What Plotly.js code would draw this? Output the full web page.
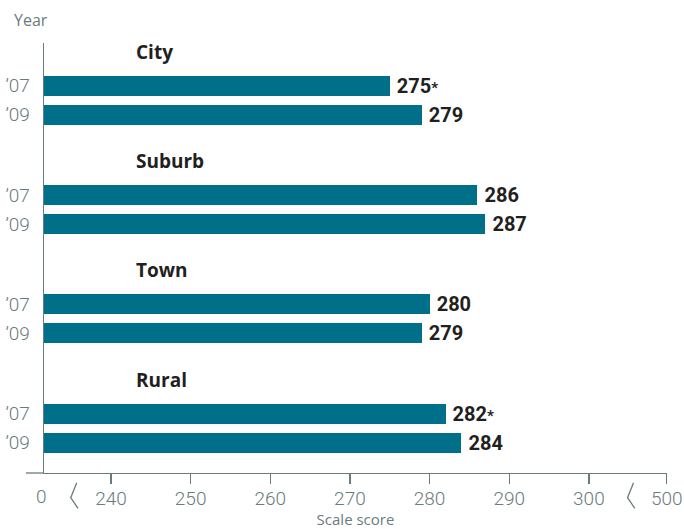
<!DOCTYPE html>
<html>
<head>
<meta charset="utf-8">
<script src="https://cdn.plot.ly/plotly-3.0.1.min.js"></script>
<style>html,body{margin:0;padding:0;background:#fff;}#chart{width:684px;height:529px;}</style>
</head>
<body>
<div id="chart"></div>
<script>
// ---- data ----
const locales = ['City', 'Suburb', 'Town', 'Rural'];
const years = ['\u201907', '\u201909'];
const scores2007 = [275, 286, 280, 282];
const scores2009 = [279, 287, 279, 284];
const sig2007 = ['*', '', '', '*'];   // significantly different from 2009
const sig2009 = ['', '', '', ''];
const xTickValues = [240, 250, 260, 270, 280, 290, 300];
const xTickLabels = ['240', '250', '260', '270', '280', '290', '300'];
const axisMinLabel = '0';
const axisMaxLabel = '500';

// ---- layout constants (broken axis / spacing) ----
const X_MIN = 231.59;       // where the axis starts (shown as "0")
const X_MAX = 309.79;       // broken-axis position of "500"
const BREAK_LOW = 235.36;
const BREAK_HIGH = 305.27;
const GROUP = 109.4;        // spacing between locale groups
const STEP = 29;            // spacing between years inside a group

const barColor = '#006f8a';
const gray = '#6b7b7d';
const dark = '#231f20';
const narrow = 'Roboto, "Liberation Sans", sans-serif';
const humanist = '"Open Sans", "Noto Sans", sans-serif';

const yPos = (g, j) => g * GROUP + j * STEP;

const seriesScores = [scores2007, scores2009];
const seriesSig = [sig2007, sig2009];
const markSig = s => s ? '<span style="font-size:15px">' + s + '</span>' : '';

const traces = seriesScores.map((vals, j) => ({
  type: 'bar',
  orientation: 'h',
  x: vals,
  y: vals.map((v, g) => yPos(g, j)),
  width: 20,
  text: vals.map((v, g) => '\u2009' + v + markSig(seriesSig[j][g])),
  textposition: 'outside',
  constraintext: 'none',
  cliponaxis: false,
  textfont: {family: narrow, size: 20, color: dark, weight: 'bold'},
  marker: {color: barColor, line: {width: 0}},
  hoverinfo: 'skip',
  showlegend: false
}));

const yTickVals = [], yTickText = [];
locales.forEach((c, g) => years.forEach((yr, j) => { yTickVals.push(yPos(g, j)); yTickText.push(yr); }));

const annotations = locales.map((c, g) => ({
  text: c, xref: 'paper', yref: 'y', x: 0.144, y: yPos(g, 0) - 34,
  xanchor: 'left', yanchor: 'middle', showarrow: false,
  font: {family: humanist, size: 19, color: dark, weight: 'bold'}
}));
annotations.push({
  text: 'Year', xref: 'paper', yref: 'paper', x: -0.0514, y: 1.0535,
  xanchor: 'left', yanchor: 'middle', showarrow: false,
  font: {family: humanist, size: 16, color: gray}
});
annotations.push({
  text: axisMinLabel, xref: 'paper', yref: 'paper', x: -0.0042, y: -0.0558,
  xanchor: 'center', yanchor: 'middle', showarrow: false,
  font: {family: narrow, size: 19, color: gray, weight: 300}
});

const breakPath = 'M 2.7,-9.7 L -3.3,-24.7 L 4,-35.3';
const shapes = [BREAK_LOW, BREAK_HIGH].map(b => ({
  type: 'path', xref: 'x', yref: 'paper', xsizemode: 'pixel', ysizemode: 'pixel',
  xanchor: b, yanchor: 0, path: breakPath,
  line: {color: gray, width: 1.3}
}));
shapes.push({
  type: 'line', xref: 'paper', yref: 'paper', x0: -0.0289, x1: 0, y0: 0, y1: 0,
  line: {color: gray, width: 1.3}
});

const layout = {
  width: 684, height: 529,
  margin: {l: 44, r: 17, t: 43, b: 56},
  paper_bgcolor: '#fff', plot_bgcolor: '#fff',
  bargap: 0,
  xaxis: {
    range: [X_MIN, X_MAX + 0.02], showgrid: false, zeroline: false,
    showline: true, linecolor: gray, linewidth: 1.3,
    ticks: 'outside', ticklen: 10, tickcolor: gray, tickwidth: 1.3,
    tickvals: xTickValues.concat([X_MAX]), ticktext: xTickLabels.concat([axisMaxLabel]),
    tickfont: {family: narrow, size: 19, color: gray, weight: 300},
    ticklabelstandoff: -2,
    title: {text: 'Scale score', font: {family: humanist, size: 15, color: gray}, standoff: 2},
    fixedrange: true
  },
  yaxis: {
    range: [387.5, -42.5], showgrid: false, zeroline: false,
    showline: true, linecolor: gray, linewidth: 1.3,
    ticks: '', tickvals: yTickVals, ticktext: yTickText,
    tickfont: {family: narrow, size: 19, color: gray, weight: 300},
    ticklabelstandoff: 9,
    fixedrange: true
  },
  annotations: annotations,
  shapes: shapes
};

Plotly.newPlot('chart', traces, layout, {displayModeBar: false, staticPlot: true});
</script>
</body>
</html>
